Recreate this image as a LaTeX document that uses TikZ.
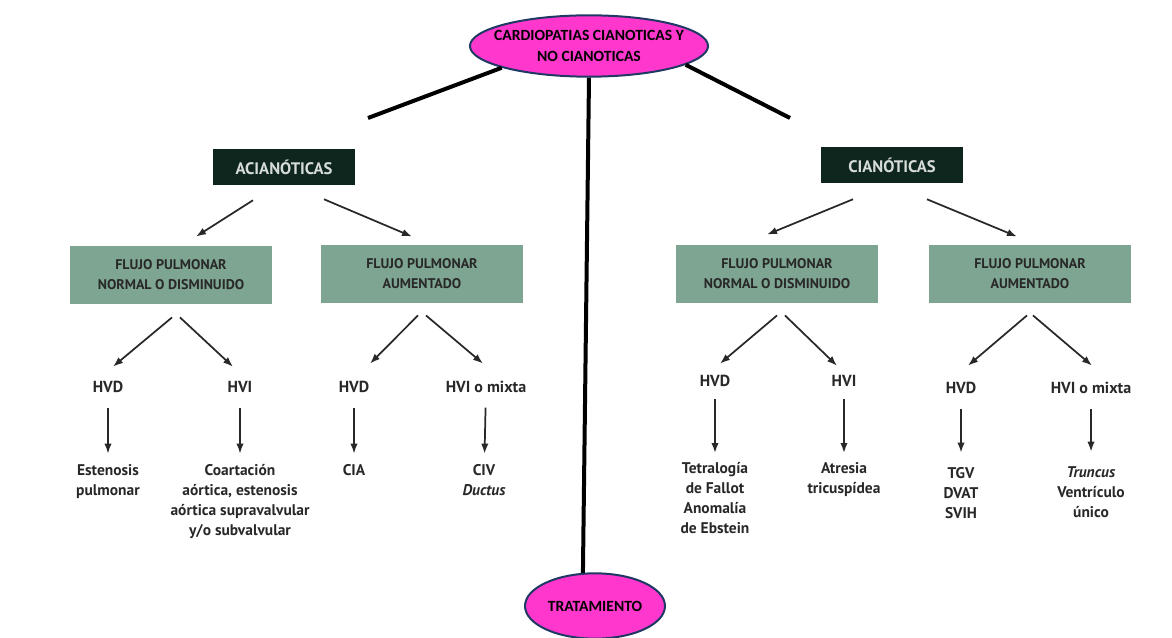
\documentclass[tikz,border=0pt]{standalone}
\usepackage{fontspec}
\setmainfont{PT Sans}
\newfontfamily\calibri{Carlito}
\usetikzlibrary{shapes.geometric,arrows.meta,positioning}
\definecolor{pink}{RGB}{255,55,205}
\definecolor{navy}{RGB}{31,56,100}
\definecolor{darkgreen}{RGB}{14,38,30}
\definecolor{sage}{RGB}{125,165,145}
\definecolor{ink}{RGB}{40,40,40}
\definecolor{paleink}{RGB}{215,220,216}

\begin{document}
\begin{tikzpicture}[
    x=0.75pt, y=-0.75pt,
    >={Latex[length=7.5pt,width=5.5pt]},
    topic/.style={ellipse, draw=navy, line width=1.5pt, fill=pink, text=black, align=center, font=\calibri\bfseries\fontsize{11.7}{15.5}\selectfont},
    group/.style={rectangle, fill=darkgreen, text=paleink, minimum width=106pt, minimum height=27pt, font=\bfseries\fontsize{12.5}{14}\selectfont},
    flow/.style={rectangle, fill=sage, text=ink, minimum width=151pt, minimum height=43pt, align=center, font=\bfseries\fontsize{10.5}{15}\selectfont},
    hyper/.style={text=ink, inner sep=1pt, font=\bfseries\fontsize{12}{13}\selectfont},
    lesion/.style={text=ink, align=center, inner sep=1pt, anchor=north, font=\bfseries\fontsize{11.6}{15}\selectfont},
    branch/.style={->, draw=ink, line width=1.3pt},
    trunk/.style={line width=3pt, black}
]
\useasboundingbox (0,0) rectangle (1172,638);

% main ovals
\node [topic, inner xsep=-8pt, inner ysep=2pt, minimum height=46pt] (cardio) at (589,46) {CARDIOPATIAS CIANOTICAS Y\\NO CIANOTICAS};
\node [topic, inner sep=0pt, minimum width=105pt, minimum height=49pt] (trat) at (595,606) {TRATAMIENTO};
\coordinate (acEnd) at (368,118);
\coordinate (cEnd) at (790,118);

\draw [trunk] (cardio.194) -- (acEnd);
\draw [trunk] (cardio.-11) -- (cEnd);
\draw [trunk] (cardio.south) -- (trat.110);

% groups
\node [group] (acian) at (284,167) {ACIANÓTICAS};
\node [group] (cian) at (892,165) {CIANÓTICAS};

\node [flow] (acNormal) at (171,275) {FLUJO PULMONAR\\NORMAL O DISMINUIDO};
\node [flow] (acAument) at (422,274) {FLUJO PULMONAR\\AUMENTADO};
\node [flow] (cNormal) at (777,274) {FLUJO PULMONAR\\NORMAL O DISMINUIDO};
\node [flow] (cAument) at (1030,274) {FLUJO PULMONAR\\AUMENTADO};

\draw [branch] ([shift={(-31,15)}]acian.south) -- ([shift={(25,-9.5)}]acNormal.north);
\draw [branch] ([shift={(40,14)}]acian.south) -- ([shift={(-10,-8.5)}]acAument.north);
\draw [branch] ([shift={(-39,16)}]cian.south) -- ([shift={(-10,-10.5)}]cNormal.north);
\draw [branch] ([shift={(35,16)}]cian.south) -- ([shift={(-13,-8.5)}]cAument.north);

% hypertrophy
\node [hyper] (hvdA) at (108,387) {HVD};
\node [hyper] (hviA) at (240,387) {HVI};
\node [hyper] (hvdB) at (354,387) {HVD};
\node [hyper] (hviB) at (486,387) {HVI o mixta};
\node [hyper] (hvdC) at (715,381) {HVD};
\node [hyper] (hviC) at (844,381) {HVI};
\node [hyper] (hvdD) at (961,388) {HVD};
\node [hyper] (hviD) at (1091,388) {HVI o mixta};

\draw [branch] ([shift={(1,13.5)}]acNormal.south) -- ([shift={(5,-13)}]hvdA.north);
\draw [branch] ([shift={(9,13.5)}]acNormal.south) -- ([shift={(-7,-13)}]hviA.north);
\draw [branch] ([shift={(-4,12.5)}]acAument.south) -- ([shift={(16,-16)}]hvdB.north);
\draw [branch] ([shift={(4,12.5)}]acAument.south) -- ([shift={(-3,-16)}]hviB.north);
\draw [branch] ([shift={(0,12.5)}]cNormal.south) -- ([shift={(5,-10)}]hvdC.north);
\draw [branch] ([shift={(8,12.5)}]cNormal.south) -- ([shift={(-7,-8)}]hviC.north);
\draw [branch] ([shift={(-3,12.5)}]cAument.south) -- ([shift={(7,-15)}]hvdD.north);
\draw [branch] ([shift={(3,12.5)}]cAument.south) -- ([shift={(1,-15)}]hviD.north);

% lesions
\node [lesion] (estenosis) at (108,463) {Estenosis\\pulmonar};
\node [lesion] (coart) at (240,463) {Coartación\\aórtica, estenosis\\aórtica supravalvular\\y/o subvalvular};
\node [lesion] (cia) at (354,463) {CIA};
\node [lesion] (civ) at (484,463) {CIV\\\textit{Ductus}};
\node [lesion] (tetra) at (715,461) {Tetralogía\\de Fallot\\Anomalía\\de Ebstein};
\node [lesion] (atresia) at (844,461) {Atresia\\tricuspídea};
\node [lesion] (tgv) at (961,466) {TGV\\DVAT\\SVIH};
\node [lesion] (truncus) at (1091,465) {\textit{Truncus}\\Ventrículo\\único};

\draw [branch, shorten <=10pt, shorten >=7pt] (hvdA) -- (estenosis);
\draw [branch, shorten <=10pt, shorten >=7pt] (hviA) -- (coart);
\draw [branch, shorten <=10pt, shorten >=7pt] (hvdB) -- (cia);
\draw [branch, shorten <=10pt, shorten >=7pt] (hviB) -- (civ);
\draw [branch, shorten <=8pt, shorten >=6pt] (hvdC) -- (tetra);
\draw [branch, shorten <=8pt, shorten >=6pt] (hviC) -- (atresia);
\draw [branch, shorten <=10pt, shorten >=10pt] (hvdD) -- (tgv);
\draw [branch, shorten <=10pt, shorten >=10pt] (hviD) -- (truncus);
\end{tikzpicture}
\end{document}
